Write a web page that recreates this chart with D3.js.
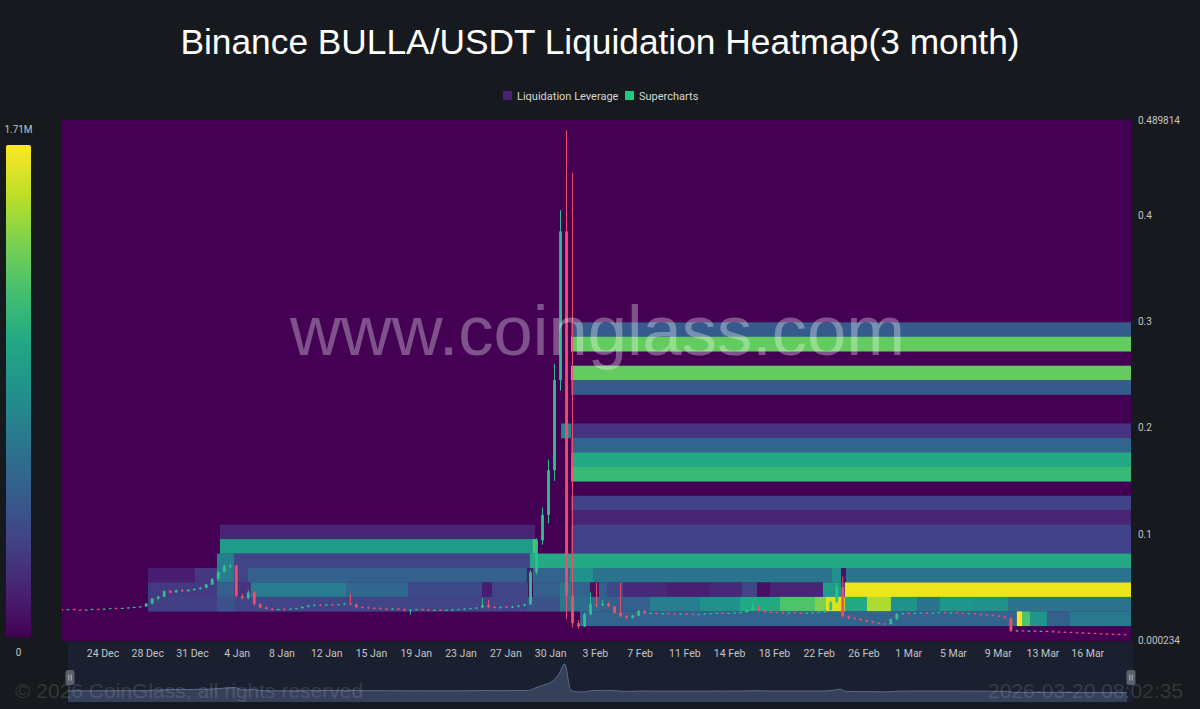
<!DOCTYPE html>
<html><head><meta charset="utf-8">
<script src="https://cdn.jsdelivr.net/npm/d3@7"></script>
<style>html,body{margin:0;padding:0;background:#16191d;}svg{display:block}</style>
</head><body><svg id="c" width="1200" height="709"></svg>
<script>
// ---------------- data ----------------
const title = "Binance BULLA/USDT Liquidation Heatmap(3 month)";
const legendLabels = ["Liquidation Leverage", "Supercharts"];
const legendColors = ["#4b2175", "#1fc883"];
const tickLabels = ["24 Dec","28 Dec","31 Dec","4 Jan","8 Jan","12 Jan","15 Jan","19 Jan","23 Jan","27 Jan","30 Jan","3 Feb","7 Feb","11 Feb","14 Feb","18 Feb","22 Feb","26 Feb","1 Mar","5 Mar","9 Mar","13 Mar","16 Mar"];
const tickSpanDays = 82;            // 24 Dec -> 16 Mar
const priceTicks = [0.000234, 0.1, 0.2, 0.3, 0.4, 0.489814];
const priceMin = 0.000234, priceMax = 0.489814;
const dayStart = -3.41, dayEnd = 85.6;   // days relative to 24 Dec
const binSize = 0.013606;
const colorMaxM = 1.71;                   // liquidation scale max (millions)
const colorLabels = ["1.71M", "0"];
// [price bin index, start day, end day, liquidation value (M)]
const heatCells = [
  [21,38.97,85.6,0.48],[20,38.97,85.6,1.30],[18,38.97,85.6,1.30],[17,38.97,85.6,0.48],
  [14,38.14,38.97,0.77],[14,38.97,85.6,0.26],[13,38.97,85.6,0.55],[12,38.97,85.6,1.03],[11,38.97,85.6,1.15],
  [9,38.97,85.6,0.34],[8,38.97,85.6,0.17],
  [7,9.74,35.97,0.17],[7,38.97,85.6,0.34],
  [6,9.74,35.8,0.94],[6,35.8,36.14,1.23],[6,38.97,85.6,0.34],
  [5,9.49,10.91,0.72],[5,10.91,35.55,0.342],[5,35.55,85.6,1.03],
  [4,3.75,7.66,0.14],[4,7.66,9.49,0.28],[4,9.49,10.91,0.72],[4,10.91,12.07,0.342],[4,12.07,35.3,0.513],
  [4,35.3,35.8,0.137],[4,35.8,38.88,0.547],[4,38.88,40.8,0.855],[4,40.8,60.7,0.65],[4,60.7,61.45,0.855],
  [4,61.45,61.87,0.086],[4,61.87,85.6,0.65],
  [3,3.75,9.49,0.29],[3,9.49,10.91,0.513],[3,10.91,12.32,0.257],[3,12.32,20.23,0.72],[3,20.23,25.4,0.565],
  [3,25.4,31.56,0.376],[3,31.56,32.39,0.137],[3,32.39,35.39,0.342],[3,35.8,38.05,0.513],[3,38.05,38.97,0.684],
  [3,38.97,40.55,0.547],[3,40.55,41.3,0.086],[3,41.3,41.97,0.513],[3,41.97,43.3,0.376],[3,43.3,47.0,0.2],
  [3,47.0,50.5,0.15],[3,50.5,53.21,0.2],[3,53.21,54.46,0.342],[3,54.46,55.54,0.07],[3,55.54,59.95,0.171],
  [3,59.95,61.45,0.94],[3,61.45,61.78,0.257],[3,61.78,85.6,1.66],
  [2,3.75,9.49,0.32],[2,9.49,10.99,0.43],[2,10.99,35.3,0.342],[2,35.3,38.05,0.43],[2,38.05,39.3,0.684],
  [2,39.3,41.38,0.6],[2,41.38,45.55,0.513],[2,45.55,49.71,0.72],[2,49.71,53.04,0.855],[2,53.04,56.37,1.03],
  [2,56.37,59.28,1.23],[2,59.28,60.2,1.37],[2,60.2,61.78,1.62],[2,61.78,63.61,1.03],[2,63.61,65.61,1.5],
  [2,65.61,67.78,0.855],[2,67.78,69.69,0.65],[2,69.69,72.44,0.9],[2,72.44,75.35,0.855],[2,75.35,85.6,0.65],
  [1,39.72,76.1,0.547],[1,76.1,76.52,1.71],[1,76.52,77.19,1.23],[1,77.19,78.6,0.89],[1,78.6,80.52,0.513],[1,80.52,85.6,0.684]
];
// candles every half day from day -3.4: [open, high, low, close]
const candleStart = -3.4, candleStep = 0.5;
const candles = [
[0.0290,0.0296,0.0284,0.0288],[0.0288,0.0295,0.0282,0.0292],[0.0292,0.0298,0.0285,0.0287],[0.0287,0.0293,0.0281,0.0285],
[0.0285,0.0291,0.0279,0.0289],[0.0289,0.0297,0.0284,0.0294],[0.0294,0.0300,0.0288,0.0291],[0.0291,0.0299,0.0286,0.0297],
[0.0297,0.0305,0.0292,0.0302],[0.0302,0.0308,0.0296,0.0299],[0.0299,0.0306,0.0294,0.0304],[0.0304,0.0312,0.0298,0.0309],
[0.0309,0.0316,0.0303,0.0313],[0.0313,0.0322,0.0308,0.0318],[0.0318,0.0352,0.0314,0.0345],[0.0345,0.0398,0.0340,0.0392],
[0.0392,0.0420,0.0375,0.0410],[0.0410,0.0470,0.0405,0.0462],[0.0462,0.0475,0.0440,0.0450],[0.0450,0.0478,0.0445,0.0470],
[0.0470,0.0482,0.0455,0.0462],[0.0462,0.0480,0.0458,0.0475],[0.0475,0.0490,0.0465,0.0482],[0.0482,0.0500,0.0476,0.0495],
[0.0495,0.0530,0.0490,0.0525],[0.0525,0.0585,0.0520,0.0578],[0.0578,0.0650,0.0570,0.0642],[0.0642,0.0712,0.0635,0.0700],
[0.0700,0.0718,0.0680,0.0705],[0.0705,0.0712,0.0405,0.0415],[0.0415,0.0440,0.0385,0.0398],[0.0398,0.0470,0.0385,0.0450],
[0.0450,0.0460,0.0330,0.0340],[0.0340,0.0350,0.0300,0.0310],[0.0310,0.0318,0.0290,0.0296],[0.0296,0.0305,0.0284,0.0290],
[0.0290,0.0298,0.0282,0.0294],[0.0294,0.0302,0.0287,0.0290],[0.0290,0.0300,0.0286,0.0297],[0.0297,0.0306,0.0290,0.0302],
[0.0302,0.0318,0.0298,0.0315],[0.0315,0.0332,0.0310,0.0328],[0.0328,0.0340,0.0320,0.0335],[0.0335,0.0342,0.0325,0.0331],
[0.0331,0.0340,0.0326,0.0336],[0.0336,0.0345,0.0328,0.0332],[0.0332,0.0342,0.0328,0.0338],[0.0338,0.0352,0.0333,0.0346],
[0.0346,0.0440,0.0330,0.0336],[0.0336,0.0345,0.0300,0.0312],[0.0312,0.0320,0.0302,0.0308],[0.0308,0.0316,0.0300,0.0305],
[0.0305,0.0312,0.0296,0.0301],[0.0301,0.0310,0.0294,0.0298],[0.0298,0.0304,0.0290,0.0295],[0.0295,0.0302,0.0288,0.0297],
[0.0297,0.0303,0.0286,0.0291],[0.0291,0.0298,0.0272,0.0284],[0.0284,0.0292,0.0240,0.0287],[0.0287,0.0295,0.0281,0.0292],
[0.0292,0.0298,0.0284,0.0288],[0.0288,0.0294,0.0280,0.0284],[0.0284,0.0291,0.0278,0.0286],[0.0286,0.0292,0.0279,0.0282],
[0.0282,0.0290,0.0276,0.0287],[0.0287,0.0294,0.0281,0.0290],[0.0290,0.0298,0.0284,0.0293],[0.0293,0.0302,0.0288,0.0298],
[0.0298,0.0306,0.0292,0.0301],[0.0301,0.0312,0.0296,0.0308],[0.0308,0.0395,0.0302,0.0330],[0.0330,0.0380,0.0300,0.0312],
[0.0312,0.0322,0.0300,0.0305],[0.0305,0.0318,0.0298,0.0314],[0.0314,0.0325,0.0306,0.0310],[0.0310,0.0322,0.0304,0.0318],
[0.0318,0.0330,0.0310,0.0325],[0.0325,0.0345,0.0318,0.0338],[0.0338,0.0660,0.0335,0.0640],[0.0640,0.0960,0.0620,0.0940],
[0.0940,0.1250,0.0900,0.1180],[0.1180,0.1700,0.1100,0.1600],[0.1600,0.2600,0.1500,0.2450],[0.2450,0.4050,0.2350,0.3850],
[0.3850,0.4800,0.0200,0.0420],[0.0420,0.4400,0.0120,0.0160],[0.0160,0.0190,0.0110,0.0130],[0.0130,0.0260,0.0125,0.0245],
[0.0245,0.0450,0.0235,0.0340],[0.0340,0.0540,0.0310,0.0330],[0.0330,0.0380,0.0320,0.0345],[0.0345,0.0360,0.0310,0.0318],
[0.0318,0.0325,0.0250,0.0258],[0.0258,0.0540,0.0215,0.0225],[0.0225,0.0235,0.0200,0.0212],[0.0212,0.0240,0.0205,0.0232],
[0.0232,0.0285,0.0228,0.0275],[0.0275,0.0282,0.0245,0.0252],[0.0252,0.0262,0.0244,0.0256],[0.0256,0.0262,0.0246,0.0250],
[0.0250,0.0258,0.0243,0.0254],[0.0254,0.0260,0.0247,0.0251],[0.0251,0.0257,0.0242,0.0246],[0.0246,0.0254,0.0240,0.0250],
[0.0250,0.0256,0.0243,0.0247],[0.0247,0.0253,0.0238,0.0242],[0.0242,0.0250,0.0236,0.0246],[0.0246,0.0255,0.0240,0.0251],
[0.0251,0.0258,0.0244,0.0254],[0.0254,0.0262,0.0248,0.0257],[0.0257,0.0264,0.0250,0.0253],[0.0253,0.0260,0.0246,0.0256],
[0.0256,0.0264,0.0249,0.0260],[0.0260,0.0268,0.0253,0.0264],[0.0264,0.0290,0.0258,0.0285],[0.0285,0.0360,0.0280,0.0305],
[0.0305,0.0330,0.0270,0.0278],[0.0278,0.0285,0.0262,0.0268],[0.0268,0.0275,0.0258,0.0264],[0.0264,0.0270,0.0255,0.0260],
[0.0260,0.0268,0.0252,0.0257],[0.0257,0.0266,0.0250,0.0262],[0.0262,0.0270,0.0254,0.0258],[0.0258,0.0265,0.0249,0.0253],
[0.0253,0.0262,0.0246,0.0259],[0.0259,0.0266,0.0251,0.0262],[0.0262,0.0270,0.0255,0.0265],[0.0265,0.0290,0.0260,0.0285],
[0.0285,0.0370,0.0280,0.0360],[0.0360,0.0545,0.0350,0.0500],[0.0500,0.0600,0.0210,0.0225],[0.0225,0.0235,0.0200,0.0210],
[0.0210,0.0218,0.0196,0.0202],[0.0202,0.0210,0.0185,0.0190],[0.0190,0.0196,0.0170,0.0176],[0.0176,0.0182,0.0160,0.0165],
[0.0165,0.0172,0.0150,0.0158],[0.0158,0.0164,0.0145,0.0152],[0.0152,0.0205,0.0148,0.0198],[0.0198,0.0255,0.0192,0.0248],
[0.0248,0.0262,0.0240,0.0255],[0.0255,0.0265,0.0246,0.0251],[0.0251,0.0260,0.0244,0.0256],[0.0256,0.0266,0.0250,0.0260],
[0.0260,0.0268,0.0252,0.0257],[0.0257,0.0264,0.0249,0.0261],[0.0261,0.0270,0.0254,0.0264],[0.0264,0.0271,0.0256,0.0259],
[0.0259,0.0266,0.0251,0.0262],[0.0262,0.0268,0.0254,0.0257],[0.0257,0.0263,0.0247,0.0252],[0.0252,0.0259,0.0244,0.0255],
[0.0255,0.0260,0.0240,0.0246],[0.0246,0.0252,0.0236,0.0241],[0.0241,0.0248,0.0232,0.0237],[0.0237,0.0243,0.0226,0.0230],
[0.0230,0.0236,0.0218,0.0222],[0.0222,0.0228,0.0205,0.0210],[0.0210,0.0215,0.0075,0.0088],[0.0088,0.0100,0.0080,0.0092],
[0.0092,0.0098,0.0084,0.0086],[0.0086,0.0094,0.0080,0.0089],[0.0089,0.0095,0.0082,0.0084],[0.0084,0.0091,0.0078,0.0087],
[0.0087,0.0094,0.0080,0.0083],[0.0083,0.0098,0.0078,0.0081],[0.0081,0.0088,0.0075,0.0079],[0.0079,0.0085,0.0073,0.0077],
[0.0077,0.0083,0.0071,0.0074],[0.0074,0.0080,0.0068,0.0072],[0.0072,0.0078,0.0066,0.0069],[0.0069,0.0075,0.0063,0.0067],
[0.0067,0.0072,0.0061,0.0064],[0.0064,0.0069,0.0059,0.0062],[0.0062,0.0067,0.0057,0.0060],[0.0060,0.0065,0.0055,0.0058],
[0.0058,0.0063,0.0053,0.0056],[0.0056,0.0061,0.0051,0.0054]
];
const watermark = "www.coinglass.com";
const footerLeft = "© 2026 CoinGlass, all rights reserved";
const footerRight = "2026-03-20 08:02:35";

// ---------------- layout ----------------
const W = 1200, H = 709;
const plot = {l: 62, r: 1131, t: 120, b: 641};
const svg = d3.select("#c");
const bg = "#16191d";
svg.append("rect").attr("width", W).attr("height", H).attr("fill", bg);

const x = d3.scaleLinear().domain([dayStart, dayEnd]).range([plot.l, plot.r]);
const y = d3.scaleLinear().domain([priceMin, priceMax]).range([640, 120]);
const color = v => d3.interpolateViridis(Math.max(0, Math.min(1, v / colorMaxM)));

// title
svg.append("text").attr("x", 600).attr("y", 54).attr("text-anchor", "middle")
  .attr("fill", "#ffffff").attr("font-family", "Liberation Sans, Arial, sans-serif")
  .attr("font-size", 35.3).text(title);

// legend
const lg = svg.append("g").attr("font-family", "Roboto, sans-serif").attr("font-size", 11).attr("fill", "#d6d6d6");
const legendX = [503, 625];
legendLabels.forEach((lab, i) => {
  lg.append("rect").attr("x", legendX[i]).attr("y", 91).attr("width", 9).attr("height", 9).attr("fill", legendColors[i]);
  lg.append("text").attr("x", legendX[i] + 14).attr("y", 99.5).text(lab);
});

// plot background
const defs = svg.append("defs");
defs.append("clipPath").attr("id", "clip").append("rect")
  .attr("x", plot.l).attr("y", plot.t).attr("width", plot.r - plot.l).attr("height", plot.b - plot.t);
svg.append("rect").attr("x", plot.l).attr("y", plot.t).attr("width", plot.r - plot.l)
  .attr("height", plot.b - plot.t).attr("fill", color(0));

const gp = svg.append("g").attr("clip-path", "url(#clip)");
gp.selectAll("rect.cell").data(heatCells).join("rect").attr("class", "cell")
  .attr("x", d => x(d[1])).attr("width", d => x(d[2]) - x(d[1]) + 0.3)
  .attr("y", d => y((d[0] + 1) * binSize)).attr("height", d => y(d[0] * binSize) - y((d[0] + 1) * binSize) + 0.3)
  .attr("fill", d => color(d[3]));

// watermark
svg.append("text").attr("x", 597.5).attr("y", 355).attr("text-anchor", "middle")
  .attr("font-family", "Liberation Sans, Arial, sans-serif").attr("font-size", 70.5)
  .attr("fill", "rgba(255,255,255,0.32)").text(watermark);

// candles
const up = "#2ec08f", down = "#ef4f6b";
const cg = gp.append("g");
const cw = 2.8;
candles.forEach((c, i) => {
  const d = candleStart + i * candleStep;
  const cx = x(d);
  const col = c[3] >= c[0] ? up : down;
  cg.append("line").attr("x1", cx).attr("x2", cx).attr("y1", y(c[1])).attr("y2", y(c[2]))
    .attr("stroke", col).attr("stroke-width", 1);
  const top = y(Math.max(c[0], c[3])), bot = y(Math.min(c[0], c[3]));
  cg.append("rect").attr("x", cx - cw / 2).attr("width", cw).attr("y", top)
    .attr("height", Math.max(1, bot - top)).attr("fill", col);
});

// right price axis
const ra = svg.append("g").attr("font-family", "Roboto, sans-serif").attr("font-size", 10).attr("fill", "#c4c4c4");
priceTicks.forEach(v => {
  ra.append("text").attr("x", 1138).attr("y", y(v)).attr("dy", "0.35em").text(String(v));
});

// slider background (data zoom)
const sl = {l: 68, r: 1133, t: 642, b: 702};
svg.append("rect").attr("x", sl.l).attr("y", sl.t).attr("width", sl.r - sl.l).attr("height", sl.b - sl.t).attr("fill", "#1a2030");

// x axis labels
const xa = svg.append("g").attr("font-family", "Roboto, sans-serif").attr("font-size", 10.5).attr("fill", "#c4c4c4");
tickLabels.forEach((lab, i) => {
  xa.append("text").attr("x", x(i * tickSpanDays / (tickLabels.length - 1))).attr("y", 657)
    .attr("text-anchor", "middle").text(lab);
});

// mini area in slider
const xs = d3.scaleLinear().domain([dayStart, dayEnd]).range([sl.l, sl.r]);
const ys = d3.scaleLinear().domain([0, 0.45]).range([693, 659]);
const area = d3.area().x((c, i) => xs(candleStart + i * candleStep)).y0(sl.b).y1(c => ys(c[3])).curve(d3.curveMonotoneX);
const line = d3.line().x((c, i) => xs(candleStart + i * candleStep)).y(c => ys(c[3])).curve(d3.curveMonotoneX);
svg.append("path").attr("d", area(candles)).attr("fill", "#35405a");
svg.append("path").attr("d", line(candles)).attr("fill", "none").attr("stroke", "#5d6b8a").attr("stroke-width", 1);

// handles
[sl.l + 2, sl.r - 2].forEach(hx => {
  svg.append("rect").attr("x", hx - 4.5).attr("y", 670).attr("width", 9).attr("height", 15).attr("rx", 2.5).attr("fill", "#5b616c");
  [-1.2, 1.2].forEach(o => svg.append("line").attr("x1", hx + o).attr("x2", hx + o).attr("y1", 674.5).attr("y2", 680.5)
    .attr("stroke", "#c9ccd1").attr("stroke-width", 0.8));
});

// color bar
const grad = defs.append("linearGradient").attr("id", "vir").attr("x1", 0).attr("y1", 1).attr("x2", 0).attr("y2", 0);
d3.range(0, 1.0001, 0.1).forEach(t => grad.append("stop").attr("offset", t).attr("stop-color", d3.interpolateViridis(t)));
svg.append("rect").attr("x", 6).attr("y", 145).attr("width", 25).attr("height", 492).attr("rx", 2).attr("fill", "url(#vir)");
const cl = svg.append("g").attr("font-family", "Roboto, sans-serif").attr("font-size", 10).attr("fill", "#c4c4c4").attr("text-anchor", "middle");
cl.append("text").attr("x", 18.5).attr("y", 133).text(colorLabels[0]);
cl.append("text").attr("x", 18.5).attr("y", 656).text(colorLabels[1]);

// footer
svg.append("text").attr("x", 15).attr("y", 698).attr("font-family", "Liberation Sans, Arial, sans-serif")
  .attr("font-size", 21).attr("fill", "rgba(255,255,255,0.14)").text(footerLeft);
svg.append("text").attr("x", 1183).attr("y", 698).attr("text-anchor", "end").attr("font-family", "Liberation Sans, Arial, sans-serif")
  .attr("font-size", 21).attr("fill", "rgba(255,255,255,0.14)").text(footerRight);
</script></body></html>
